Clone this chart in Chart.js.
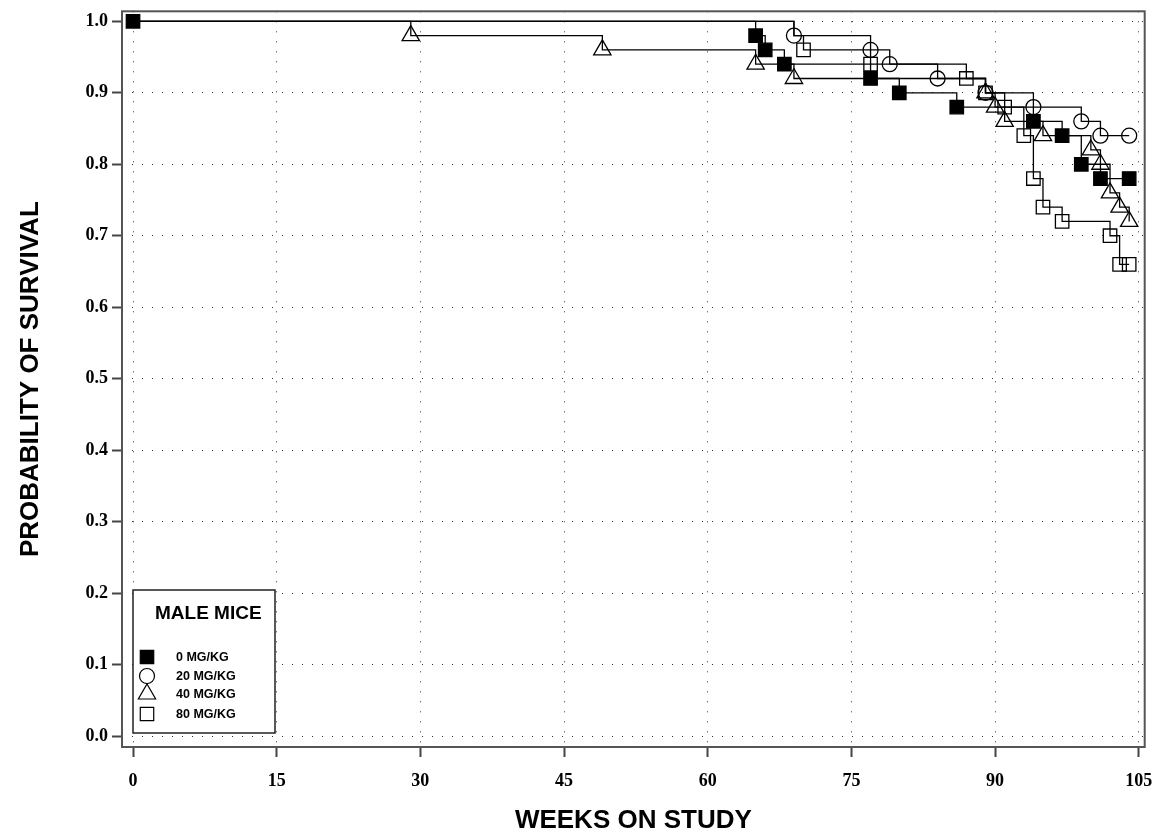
<!DOCTYPE html>
<html>
<head>
<meta charset="utf-8">
<script src="https://cdn.jsdelivr.net/npm/chart.js@4.4.1/dist/chart.umd.min.js"></script>
<style>
  html, body { margin: 0; padding: 0; background: #fff; }
  #wrap { width: 1156px; height: 840px; }
</style>
</head>
<body>
<div id="wrap"><canvas id="chart" width="1156" height="840"></canvas></div>
<script>
const weekTicks = [0, 15, 30, 45, 60, 75, 90, 105];
const survivalTicks = [0.0, 0.1, 0.2, 0.3, 0.4, 0.5, 0.6, 0.7, 0.8, 0.9, 1.0];

const legendTitle = 'MALE MICE';
const groupLabels = ['0 MG/KG', '20 MG/KG', '40 MG/KG', '80 MG/KG'];

// Kaplan-Meier steps: week of death and survival after it (last point = end of study)
const weeks0 = [0, 65, 66, 68, 77, 80, 86, 94, 97, 99, 101, 104];
const survival0 = [1.0, 0.98, 0.96, 0.94, 0.92, 0.90, 0.88, 0.86, 0.84, 0.80, 0.78, 0.78];

const weeks20 = [0, 69, 77, 79, 84, 89, 94, 99, 101, 104];
const survival20 = [1.0, 0.98, 0.96, 0.94, 0.92, 0.90, 0.88, 0.86, 0.84, 0.84];

const weeks40 = [0, 29, 49, 65, 69, 89, 90, 91, 95, 100, 101, 102, 103, 104];
const survival40 = [1.0, 0.98, 0.96, 0.94, 0.92, 0.90, 0.88, 0.86, 0.84, 0.82, 0.80, 0.76, 0.74, 0.72];

const weeks80 = [0, 69, 70, 77, 87, 89, 91, 93, 94, 95, 97, 102, 103, 104];
const survival80 = [1.0, 0.98, 0.96, 0.94, 0.92, 0.90, 0.88, 0.84, 0.78, 0.74, 0.72, 0.70, 0.66, 0.66];

const toPoints = (xs, ys) => xs.map((x, i) => ({ x, y: ys[i] }));

const markers = [
  { style: 'rect', radius: 9.5, fill: '#000' },
  { style: 'circle', radius: 7.5, fill: 'rgba(0,0,0,0)' },
  { style: 'triangle', radius: 10, fill: 'rgba(0,0,0,0)' },
  { style: 'rect', radius: 9.5, fill: 'rgba(0,0,0,0)' }
];

function makeDataset(i, xs, ys, hidden) {
  const m = markers[i];
  const radii = xs.map((x, k) => (hidden.includes(k) ? 0 : m.radius));
  return {
    label: groupLabels[i],
    data: toPoints(xs, ys),
    showLine: true,
    stepped: 'before',
    borderColor: '#000',
    borderWidth: 1.3,
    pointStyle: m.style,
    pointRadius: radii,
    pointBackgroundColor: m.fill,
    pointBorderColor: '#000',
    pointBorderWidth: 1.3
  };
}

const framePlugin = {
  id: 'frame',
  afterDatasetsDraw(chart) {
    const { ctx, chartArea: { left, top, right, bottom } } = chart;
    ctx.save();
    ctx.strokeStyle = '#555';
    ctx.lineWidth = 2;
    ctx.strokeRect(left, top, right - left, bottom - top);
    ctx.restore();
  }
};

const boxLegendPlugin = {
  id: 'boxLegend',
  afterDraw(chart) {
    const { ctx, chartArea } = chart;
    const bx = chartArea.left + 11, by = chartArea.bottom - 157;
    const bw = 142, bh = 143;
    ctx.save();
    ctx.fillStyle = '#fff';
    ctx.fillRect(bx, by, bw, bh);
    ctx.strokeStyle = '#222';
    ctx.lineWidth = 1.5;
    ctx.strokeRect(bx, by, bw, bh);

    ctx.fillStyle = '#000';
    ctx.font = 'bold 19px "Liberation Sans", Arial, sans-serif';
    ctx.textBaseline = 'middle';
    ctx.textAlign = 'left';
    ctx.fillText(legendTitle, bx + 22, by + 24);

    ctx.font = 'bold 12.5px "Liberation Sans", Arial, sans-serif';
    const rows = [by + 67, by + 86, by + 104, by + 124];
    groupLabels.forEach((label, i) => {
      const m = markers[i];
      ctx.fillStyle = m.fill === '#000' ? '#000' : '#fff';
      ctx.strokeStyle = '#000';
      ctx.lineWidth = 1.2;
      Chart.helpers.drawPoint(ctx, { pointStyle: m.style, rotation: 0, radius: m.radius, borderWidth: 1.2 }, bx + 14, rows[i]);
      ctx.fillStyle = '#000';
      ctx.fillText(label, bx + 43, rows[i] + 1);
    });
    ctx.restore();
  }
};

const tickFont = { family: '"Liberation Serif", "Times New Roman", serif', weight: 'bold', size: 18 };
const titleFont = { family: '"Liberation Sans", Arial, sans-serif', weight: 'bold', size: 26 };

new Chart(document.getElementById('chart').getContext('2d'), {
  type: 'scatter',
  data: {
    datasets: [
      makeDataset(0, weeks0, survival0, []),
      makeDataset(1, weeks20, survival20, [0]),
      makeDataset(2, weeks40, survival40, [0]),
      makeDataset(3, weeks80, survival80, [0, 1])
    ]
  },
  options: {
    responsive: false,
    devicePixelRatio: 1,
    animation: false,
    events: [],
    layout: { padding: { left: 0, top: 6, right: 4, bottom: 0 } },
    plugins: {
      legend: { display: false },
      tooltip: { enabled: false }
    },
    scales: {
      x: {
        type: 'linear',
        min: -1.15,
        max: 105.62,
        afterBuildTicks: scale => { scale.ticks = weekTicks.map(v => ({ value: v })); },
        afterFit: scale => { scale.height = 93; scale.paddingLeft = 0; scale.paddingRight = 0; },
        ticks: { font: tickFont, color: '#000', padding: 14, autoSkip: false, maxRotation: 0 },
        grid: { color: '#333', lineWidth: 1, tickColor: '#444', tickLength: 10, tickWidth: 2, tickBorderDash: [] },
        border: { display: false, dash: [1, 9] },
        title: { display: true, text: 'WEEKS ON STUDY', font: titleFont, color: '#000', padding: { top: 0, bottom: 3.4 } }
      },
      y: {
        type: 'linear',
        min: -0.0153,
        max: 1.014,
        afterBuildTicks: scale => { scale.ticks = survivalTicks.map(v => ({ value: v })); },
        afterFit: scale => { scale.width = 122; scale.paddingTop = 0; scale.paddingBottom = 0; },
        ticks: { font: tickFont, color: '#000', padding: 4, callback: v => v.toFixed(1) },
        grid: { color: '#333', lineWidth: 1, tickColor: '#444', tickLength: 10, tickWidth: 2, tickBorderDash: [] },
        border: { display: false, dash: [1, 9] },
        title: { display: true, text: 'PROBABILITY OF SURVIVAL', font: titleFont, color: '#000', padding: { top: 15, bottom: 0 } }
      }
    }
  },
  plugins: [framePlugin, boxLegendPlugin]
});
</script>
</body>
</html>
